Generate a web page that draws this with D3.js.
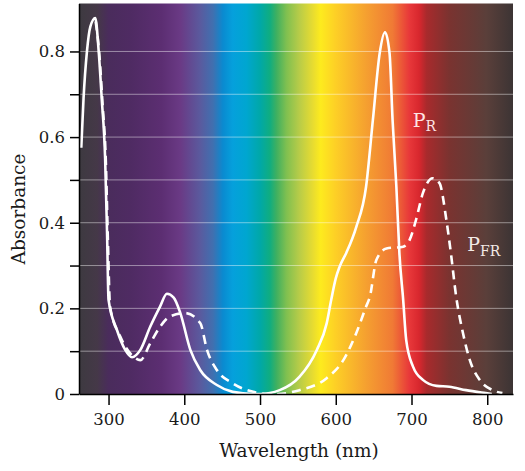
<!DOCTYPE html>
<html>
<head>
<meta charset="utf-8">
<script src="https://cdn.jsdelivr.net/npm/d3@7"></script>
<style>
body { margin: 0; background: #fff; }
text { font-family: "DejaVu Serif", serif; }
</style>
</head>
<body>
<script>
// phytochrome absorbance
var prNm = [264, 267, 271.5, 276, 282.5, 287, 291, 295.5, 298, 300, 311, 322, 331, 342, 355, 368, 377, 386,
    394.6, 408, 421, 443, 464, 491, 500, 526, 552, 575, 588, 594, 600, 605, 614, 627, 640, 649, 658, 665,
    671, 675, 680, 684, 689, 693, 702, 715, 733, 750, 772, 798, 806];
var prAbs = [0.575, 0.69, 0.80, 0.858, 0.878, 0.80, 0.69, 0.55, 0.38, 0.22, 0.15, 0.103, 0.086, 0.103, 0.157, 0.204, 0.234, 0.225,
    0.19, 0.103, 0.056, 0.021, 0.005, 0.0, 0.0, 0.009, 0.04, 0.103, 0.165, 0.22, 0.27, 0.297, 0.33, 0.39, 0.484, 0.64, 0.796, 0.845,
    0.796, 0.64, 0.484, 0.329, 0.22, 0.126, 0.064, 0.033, 0.019, 0.017, 0.009, 0.002, 0.0];

var pfrNm = [283, 288, 292, 296.5, 299, 302, 315.5, 333, 342, 355, 368, 381, 401, 421, 430, 443, 464, 491, 515, 522,
    552, 588, 610, 627, 640, 645, 653.6, 667, 689, 697.5, 706, 715, 728, 737, 746, 752, 759, 768, 777, 790, 807, 820];
var pfrAbs = [0.87, 0.79, 0.68, 0.54, 0.37, 0.204, 0.134, 0.087, 0.079, 0.118, 0.157, 0.181, 0.189, 0.166, 0.103, 0.056, 0.025, 0.005, 0.0, 0.0,
    0.009, 0.037, 0.079, 0.142, 0.204, 0.227, 0.313, 0.34, 0.344, 0.36, 0.407, 0.469, 0.504, 0.492, 0.407, 0.329, 0.227, 0.142, 0.079, 0.033, 0.009, 0.002];

var xTicks = [300, 400, 500, 600, 700, 800];
var yTicks = [0, 0.1, 0.2, 0.3, 0.4, 0.5, 0.6, 0.7, 0.8];
var yLabels = ["0", "", "0.2", "", "0.4", "", "0.6", "", "0.8"];

// background spectrum colours by wavelength
var spectrumNm = [261, 285, 300, 330, 370, 395, 421, 438, 451, 464, 482, 500, 513, 522, 535, 552, 570, 580, 600, 640, 675, 697, 710, 720, 750, 799, 834];
var spectrumColor = ["#3d3a40", "#453848", "#4a2c5c", "#4f2b63", "#5c2e72", "#6a3a85", "#5a5a9e", "#4070b0", "#0a8ad0", "#05a0dc", "#00a6d0", "#00a8a8",
    "#10ad80", "#40b060", "#80c050", "#b8cc48", "#e8dc30", "#fdeb1e", "#fdcf26", "#f5a030", "#f07a35", "#e8383a", "#d8272e", "#a82a2c", "#7a3330", "#5a3f3a", "#3c3434"];

var width = 525, height = 471;
var margin = {left: 79, right: 12, top: 3.5, bottom: 77};

var svg = d3.select("body").append("svg")
    .attr("width", width)
    .attr("height", height);

var x = d3.scaleLinear().domain([261, 834]).range([margin.left, width - margin.right]);
var y = d3.scaleLinear().domain([0, 0.912]).range([height - margin.bottom, margin.top]);

var grad = svg.append("defs").append("linearGradient")
    .attr("id", "spectrum")
    .attr("gradientUnits", "userSpaceOnUse")
    .attr("x1", x(261)).attr("x2", x(834))
    .attr("y1", 0).attr("y2", 0);

grad.selectAll("stop")
    .data(spectrumNm)
    .enter().append("stop")
    .attr("offset", function(d) { return (d - 261) / (834 - 261); })
    .attr("stop-color", function(d, i) { return spectrumColor[i]; });

svg.append("rect")
    .attr("x", x(261))
    .attr("y", y(0.912))
    .attr("width", x(834) - x(261))
    .attr("height", y(0) - y(0.912))
    .style("fill", "url(#spectrum)");

// grid lines
svg.selectAll(".grid")
    .data(yTicks.slice(1))
    .enter().append("line")
    .attr("x1", x(261)).attr("x2", x(834))
    .attr("y1", function(d) { return y(d); })
    .attr("y2", function(d) { return y(d); })
    .style("stroke", "rgba(255,255,255,0.45)")
    .style("stroke-width", 1);

var line = d3.line()
    .x(function(d) { return x(d[0]); })
    .y(function(d) { return y(d[1]); })
    .curve(d3.curveMonotoneX);

svg.append("path")
    .datum(d3.zip(pfrNm, pfrAbs))
    .attr("d", line)
    .style("fill", "none")
    .style("stroke", "#fff")
    .style("stroke-width", 2.6)
    .style("stroke-dasharray", "9,6");

svg.append("path")
    .datum(d3.zip(prNm, prAbs))
    .attr("d", line)
    .style("fill", "none")
    .style("stroke", "#fff")
    .style("stroke-width", 2.6);

// axes
var yAxis = svg.append("g")
    .attr("transform", "translate(" + margin.left + ",0)")
    .call(d3.axisLeft(y).tickValues(yTicks).tickSize(9).tickSizeOuter(0).tickPadding(5)
        .tickFormat(function(d, i) { return yLabels[i]; }));

var xAxis = svg.append("g")
    .attr("transform", "translate(0," + (height - margin.bottom) + ")")
    .call(d3.axisBottom(x).tickValues(xTicks).tickSize(11).tickSizeOuter(0).tickPadding(8)
        .tickFormat(d3.format("d")));

svg.selectAll(".domain, .tick line")
    .style("stroke", "#000")
    .style("stroke-width", 1.5);
svg.selectAll(".tick text")
    .style("font-family", "DejaVu Serif")
    .style("font-size", "16.5px")
    .style("fill", "#1a1a1a");

svg.append("text")
    .attr("x", (x(261) + x(834)) / 2 + 3)
    .attr("y", 457)
    .attr("text-anchor", "middle")
    .style("font-size", "18.5px")
    .style("fill", "#1a1a1a")
    .text("Wavelength (nm)");

svg.append("text")
    .attr("transform", "translate(25,209) rotate(-90)")
    .attr("text-anchor", "middle")
    .style("font-size", "18.5px")
    .style("fill", "#1a1a1a")
    .text("Absorbance");

// curve labels
var prLabel = svg.append("text")
    .attr("x", x(701.5))
    .attr("y", y(0.623))
    .style("font-size", "19px")
    .style("fill", "#fde4e4");
prLabel.append("tspan").text("P");
prLabel.append("tspan").attr("dy", 4).style("font-size", "14px").text("R");

var pfrLabel = svg.append("text")
    .attr("x", x(773.5))
    .attr("y", y(0.334))
    .style("font-size", "19px")
    .style("fill", "#f3ebe8");
pfrLabel.append("tspan").text("P");
pfrLabel.append("tspan").attr("dy", 5).style("font-size", "14px").text("FR");
</script>
</body>
</html>
